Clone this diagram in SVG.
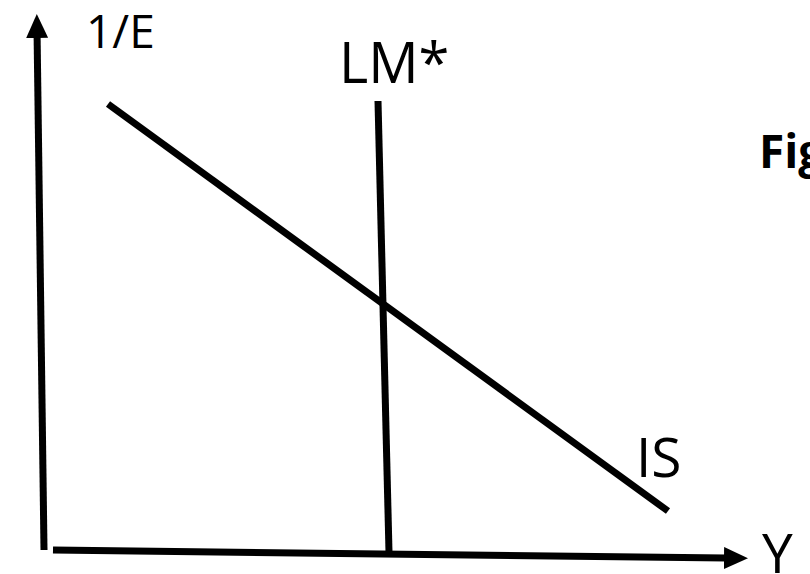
<svg xmlns="http://www.w3.org/2000/svg" width="810" height="574" viewBox="0 0 810 574">
<defs>
<style>
.ln{stroke:#000;stroke-width:7;fill:none}
.t{font-family:"Open Sans","Liberation Sans",sans-serif;fill:#000}
</style>
<marker id="ah" viewBox="0 0 24 22" refX="2" refY="11" markerWidth="24" markerHeight="22" markerUnits="userSpaceOnUse" orient="auto">
<path d="M0,0 L24,11 L0,22 Z" fill="#000"/>
</marker>
</defs>
<rect width="810" height="574" fill="#fff"/>
<g id="connectors">
<line id="y-axis" class="ln" x1="44" y1="550" x2="37.1" y2="36" marker-end="url(#ah)"/>
<line id="x-axis" class="ln" x1="53" y1="550" x2="726" y2="558" marker-end="url(#ah)"/>
<line id="IS" class="ln" x1="108" y1="104" x2="668" y2="511"/>
<line id="LM" class="ln" x1="378" y1="101" x2="389" y2="552"/>
</g>
<g id="labels">
<text class="t" x="86" y="48" font-size="46">1/E</text>
<text class="t" x="339" y="83" font-size="56">LM*</text>
<text class="t" x="636" y="477" font-size="55">IS</text>
<text class="t" x="762" y="573" font-size="55">Y</text>
<text class="t" x="759" y="168" font-size="46" font-weight="bold">Fig</text>
</g>
</svg>
